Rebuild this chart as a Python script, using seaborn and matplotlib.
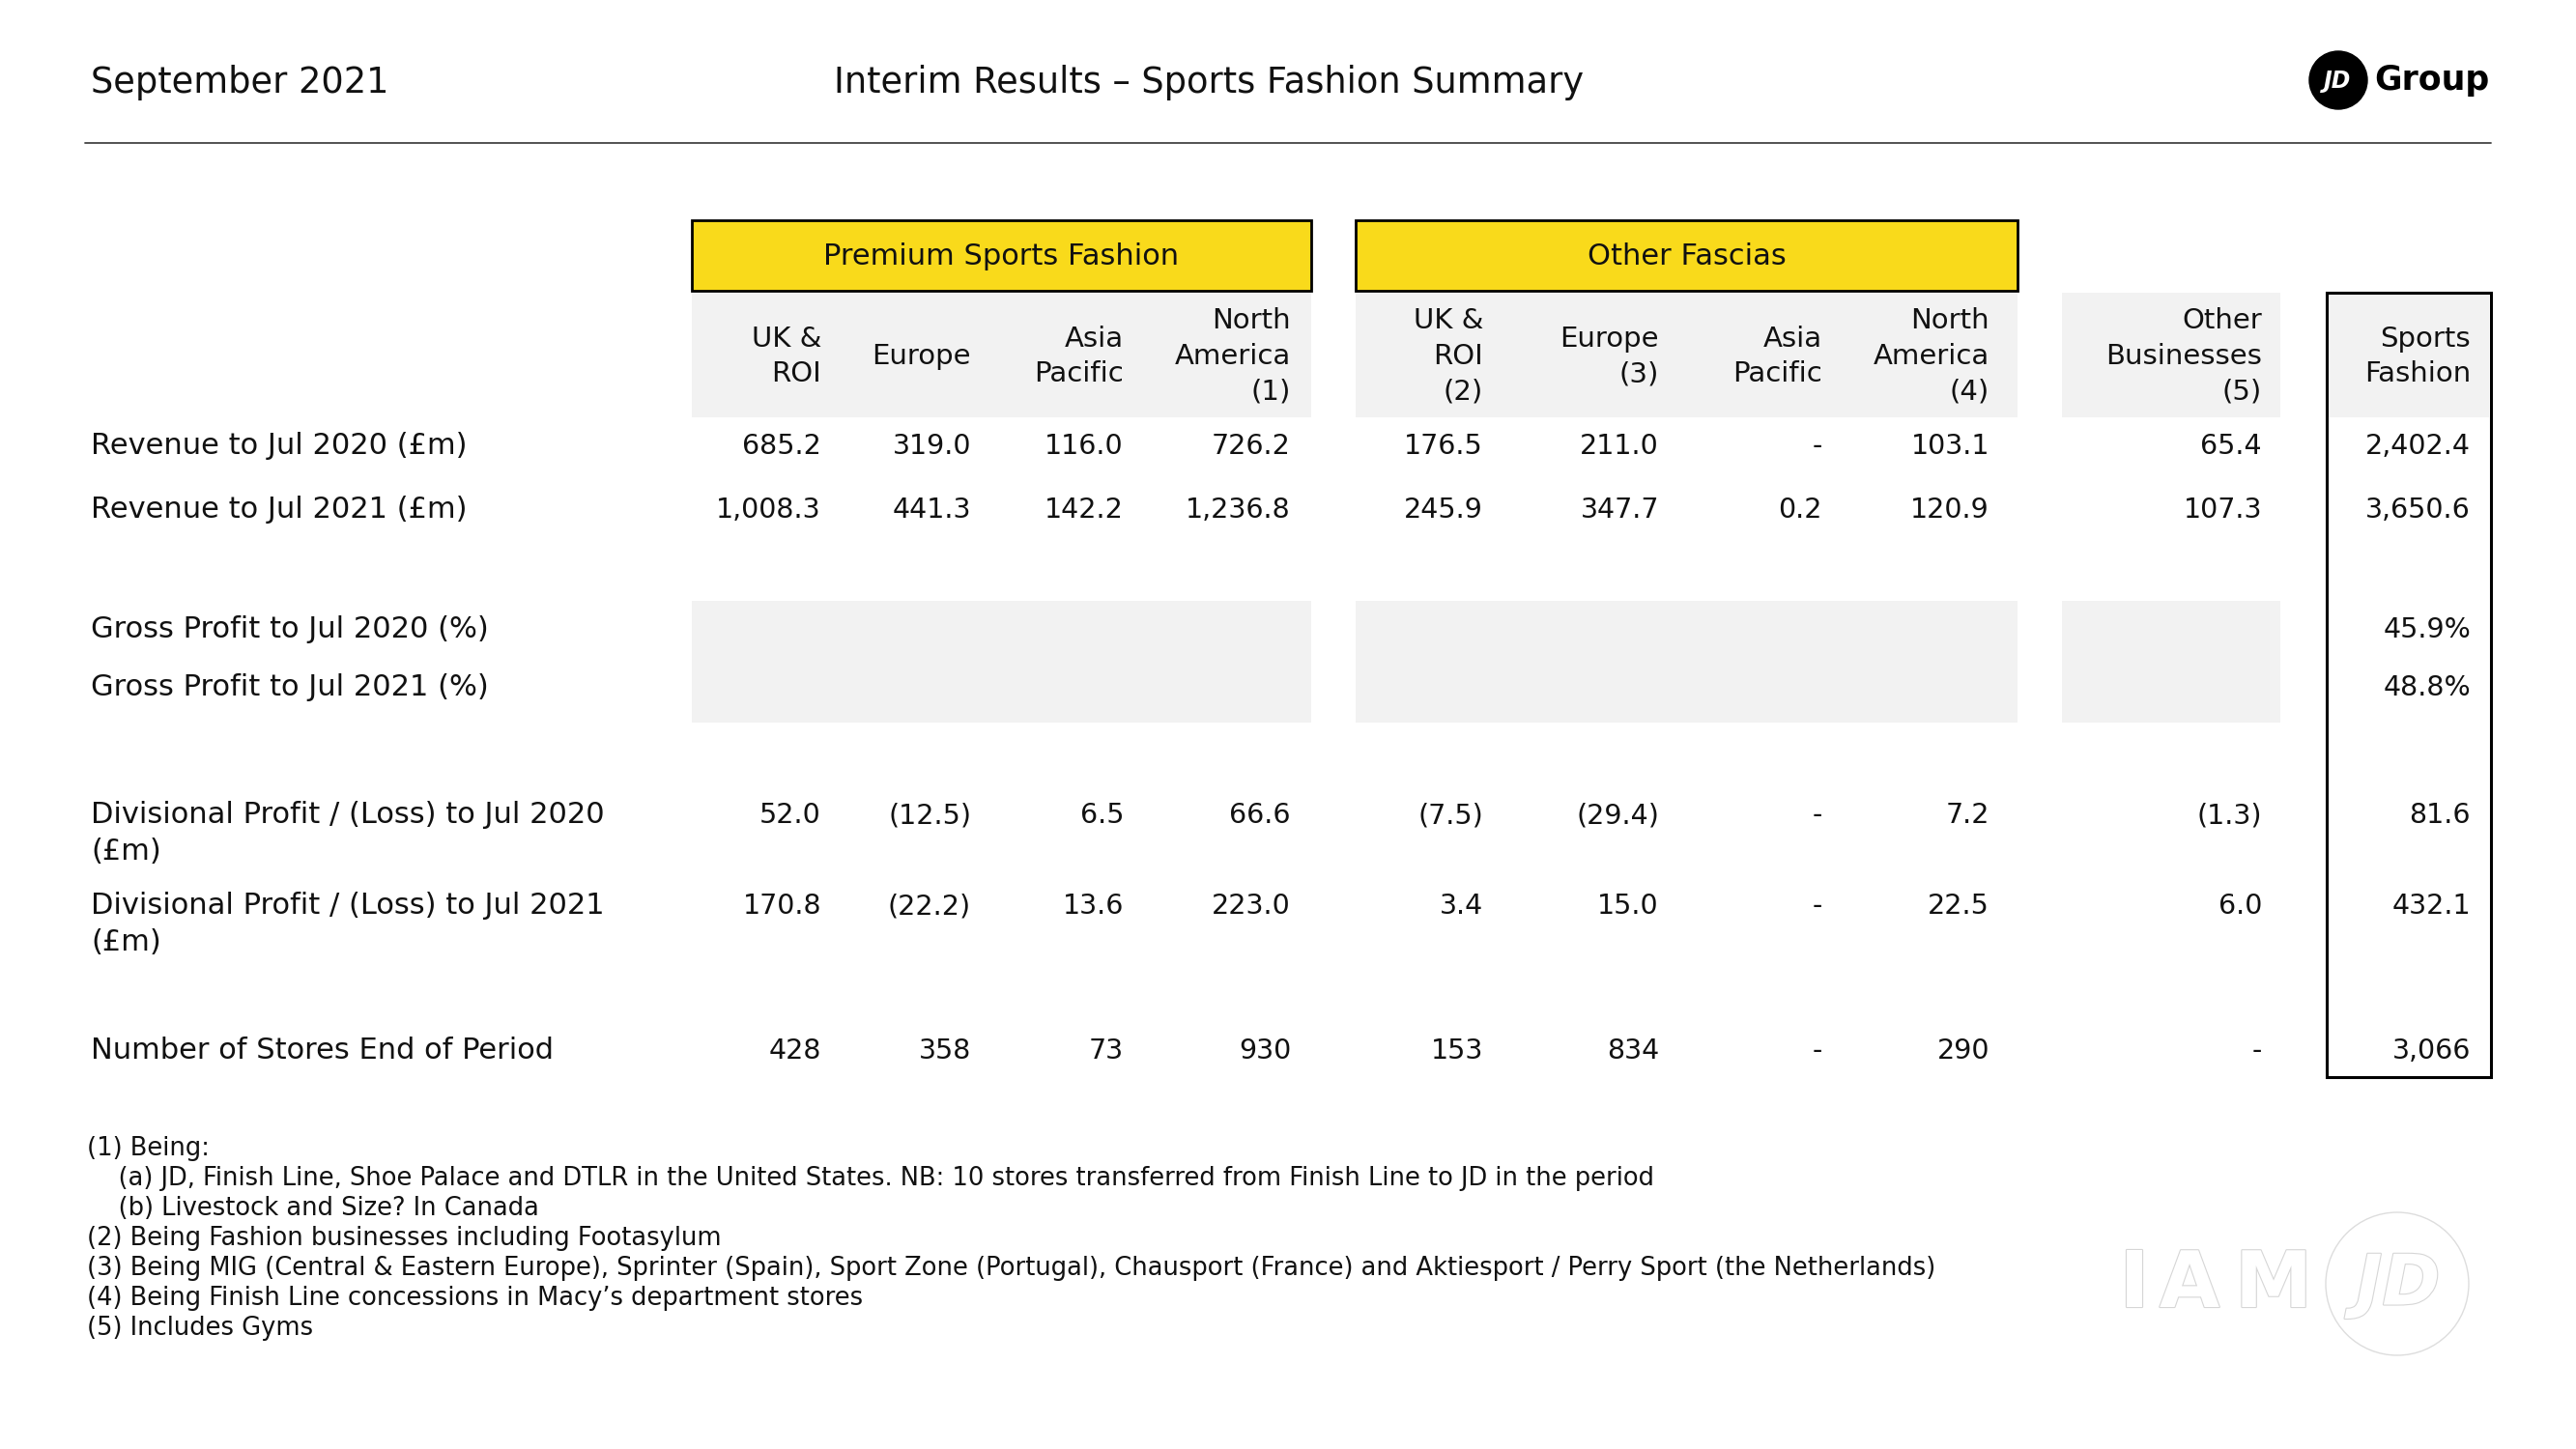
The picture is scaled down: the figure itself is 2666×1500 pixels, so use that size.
import matplotlib

matplotlib.use("Agg")
import matplotlib.pyplot as plt
import matplotlib.patheffects as pe
import numpy as np
import seaborn as sns
from matplotlib.patches import Circle, Rectangle

# ---- data ----
group_names = ["Premium Sports Fashion", "Other Fascias"]
column_headers = [
    "UK &\nROI", "Europe", "Asia\nPacific", "North\nAmerica\n(1)",
    "UK &\nROI\n(2)", "Europe\n(3)", "Asia\nPacific", "North\nAmerica\n(4)",
    "Other\nBusinesses\n(5)", "Sports\nFashion",
]
row_labels = [
    "Revenue to Jul 2020 (£m)",
    "Revenue to Jul 2021 (£m)",
    "Gross Profit to Jul 2020 (%)",
    "Gross Profit to Jul 2021 (%)",
    "Divisional Profit / (Loss) to Jul 2020\n(£m)",
    "Divisional Profit / (Loss) to Jul 2021\n(£m)",
    "Number of Stores End of Period",
]
nan = np.nan
revenue_2020 = [685.2, 319.0, 116.0, 726.2, 176.5, 211.0, nan, 103.1, 65.4, 2402.4]
revenue_2021 = [1008.3, 441.3, 142.2, 1236.8, 245.9, 347.7, 0.2, 120.9, 107.3, 3650.6]
gross_profit_2020 = [None] * 9 + [45.9]
gross_profit_2021 = [None] * 9 + [48.8]
div_profit_2020 = [52.0, -12.5, 6.5, 66.6, -7.5, -29.4, nan, 7.2, -1.3, 81.6]
div_profit_2021 = [170.8, -22.2, 13.6, 223.0, 3.4, 15.0, nan, 22.5, 6.0, 432.1]
stores = [428, 358, 73, 930, 153, 834, nan, 290, nan, 3066]
footnotes = [
    "(1) Being:",
    "    (a) JD, Finish Line, Shoe Palace and DTLR in the United States. NB: 10 stores transferred from Finish Line to JD in the period",
    "    (b) Livestock and Size? In Canada",
    "(2) Being Fashion businesses including Footasylum",
    "(3) Being MIG (Central & Eastern Europe), Sprinter (Spain), Sport Zone (Portugal), Chausport (France) and Aktiesport / Perry Sport (the Netherlands)",
    "(4) Being Finish Line concessions in Macy\u2019s department stores",
    "(5) Includes Gyms",
]

# ---- layout (pixel space) ----
W, H = 2666, 1500
col_right = [850, 1005, 1163, 1336, 1535, 1717, 1886, 2059, 2341, 2557]
group_x = [(716, 1357), (1403, 2088), (2134, 2360)]
row_y = [462, 528, 652, 712, 844, 938, 1088]
YELLOW = "#F9DA1B"
GREY = "#F2F2F2"
TXT = "#111111"
BODY = 20.5


def fmt_money(v):
    if v is None:
        return ""
    if np.isnan(v):
        return "-"
    s = f"{abs(v):,.1f}"
    return f"({s})" if v < 0 else s


def fmt_pct(v):
    return "" if v is None else f"{v:.1f}%"


def fmt_int(v):
    return "-" if np.isnan(v) else f"{int(v):,}"


rows = [
    [fmt_money(v) for v in revenue_2020],
    [fmt_money(v) for v in revenue_2021],
    [fmt_pct(v) for v in gross_profit_2020],
    [fmt_pct(v) for v in gross_profit_2021],
    [fmt_money(v) for v in div_profit_2020],
    [fmt_money(v) for v in div_profit_2021],
    [fmt_int(v) for v in stores],
]

sns.set_theme(style="white")
plt.rcParams["font.family"] = ["DejaVu Sans"]

fig = plt.figure(figsize=(W / 100, H / 100), dpi=100)
ax = fig.add_axes([0, 0, 1, 1])
ax.set_xlim(0, W)
ax.set_ylim(H, 0)
ax.axis("off")

# header
ax.text(94, 85, "September 2021", fontsize=26.5, color=TXT, va="center", ha="left")
ax.text(1251, 85, "Interim Results \u2013 Sports Fashion Summary", fontsize=26.5, color=TXT, va="center", ha="center")
ax.plot([88, 2578], [148, 148], color="#444444", lw=1.3)

# logo
ax.add_patch(Circle((2420, 83), 30, color="black"))
ax.text(2419, 84, "JD", fontsize=17, color="white", fontweight="bold", fontstyle="italic", ha="center", va="center")
ax.text(2457, 83, "Group", fontsize=25, color="black", fontweight="bold", ha="left", va="center")

# group header boxes
for (x0, x1), name in zip(group_x[:2], group_names):
    ax.add_patch(Rectangle((x0, 228), x1 - x0, 73, facecolor=YELLOW, edgecolor="black", lw=2))
    ax.text((x0 + x1) / 2, 266, name, fontsize=22, color=TXT, ha="center", va="center")

# grey bands
for x0, x1 in group_x:
    ax.add_patch(Rectangle((x0, 303), x1 - x0, 129, facecolor=GREY, edgecolor="none"))
    ax.add_patch(Rectangle((x0, 622), x1 - x0, 126, facecolor=GREY, edgecolor="none"))
ax.add_patch(Rectangle((2410, 305), 166, 127, facecolor=GREY, edgecolor="none"))
ax.add_patch(Rectangle((2408, 303), 170, 812, facecolor="none", edgecolor="black", lw=2.2))

# column headers
for x, h in zip(col_right, column_headers):
    ax.text(x, 369, h, fontsize=21, color=TXT, ha="right", va="center", multialignment="right", linespacing=1.40)

# rows
for y, label, vals in zip(row_y, row_labels, rows):
    for i, line in enumerate(label.split("\n")):
        ax.text(94, y + i * 37, line, fontsize=22, color=TXT, ha="left", va="center")
    for x, v in zip(col_right, vals):
        ax.text(x, y, v, fontsize=BODY, color=TXT, ha="right", va="center")

# footnotes
for i, line in enumerate(footnotes):
    ax.text(90, 1189 + i * 31, line, fontsize=18.5, color=TXT, ha="left", va="center")

# watermark
outline = [pe.withStroke(linewidth=1.6, foreground="#d6d6d6")]
ax.add_patch(Circle((2481, 1329), 74, facecolor="none", edgecolor="#dddddd", lw=1))
ax.text(2482, 1331, "JD", fontsize=52, color="white", fontstyle="italic", fontweight="bold",
        ha="center", va="center", path_effects=outline)
for letter, x in zip("IAM", [2209, 2266, 2353]):
    ax.text(x, 1331, letter, fontsize=58, color="white", fontweight="bold", ha="center", va="center",
            path_effects=outline)

fig.savefig("out.png", dpi=100)
